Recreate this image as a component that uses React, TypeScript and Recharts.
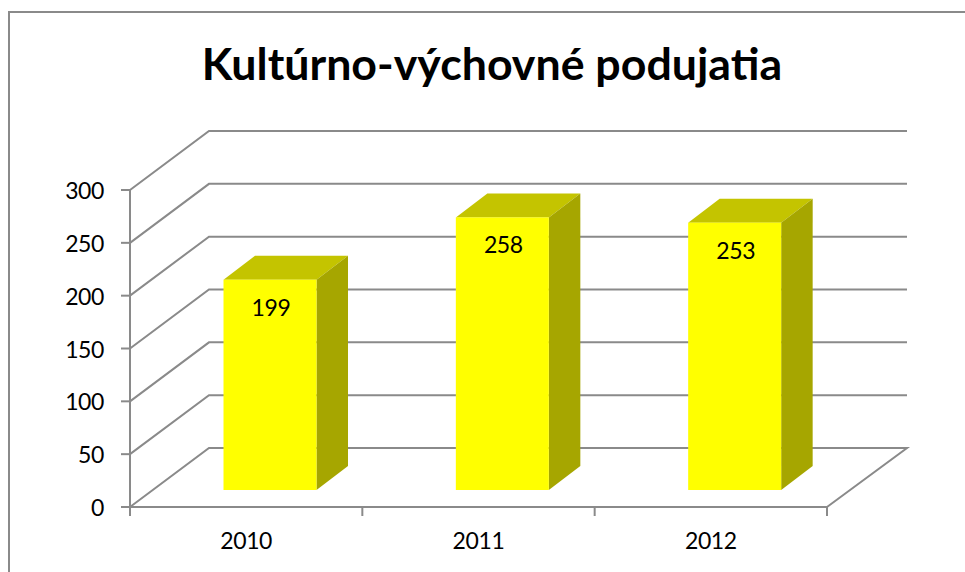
import React from "react";
import { BarChart, Bar, XAxis, YAxis, CartesianGrid, LabelList } from "recharts";

const years = ["2010", "2011", "2012"];
const counts = [199, 258, 253];
const yTicks = [0, 50, 100, 150, 200, 250, 300];
const chartTitle = "Kultúrno-výchovné podujatia";

const rows = years.map((year, i) => ({ year, count: counts[i] }));

const FONT = "Lato, 'Open Sans', sans-serif";
const LINE = "#8a8a8a";
const WALL_DX = 79;
const WALL_DY = -59;
const BAR_DX = 23.8;
const BAR_DY = -17;
const DEPTH_DX = 31.5;
const DEPTH_DY = -24;
const LABEL_STYLE = { fontFamily: FONT, fontSize: 23, fill: "#000", letterSpacing: "-0.4px" };

const GridLine = (p: any) => {
  const { x1, x2, y1 } = p;
  const bx = x1 + WALL_DX;
  const by = y1 + WALL_DY;
  const ex = x2 + WALL_DX + 1;
  const isFloor = Math.abs(y1 - 507) < 1;
  const d = `M${x1},${y1} L${bx},${by} L${ex},${by}` + (isFloor ? ` L${x2},${y1}` : "");
  return <path d={d} fill="none" stroke={LINE} strokeWidth={2} />;
};

const Box = (p: any) => {
  const x = p.x + BAR_DX;
  const y = p.y + BAR_DY;
  const w = p.width;
  const h = p.height;
  return (
    <g>
      <polygon
        points={`${x},${y} ${x + DEPTH_DX},${y + DEPTH_DY} ${x + w + DEPTH_DX},${y + DEPTH_DY} ${x + w},${y}`}
        fill="#c4c400"
      />
      <polygon
        points={`${x + w},${y} ${x + w + DEPTH_DX},${y + DEPTH_DY} ${x + w + DEPTH_DX},${y + h + DEPTH_DY} ${x + w},${y + h}`}
        fill="#a6a600"
      />
      <rect x={x} y={y} width={w} height={h} fill="#ffff00" />
    </g>
  );
};

const BoxLabel = (p: any) => (
  <text
    x={p.x + BAR_DX + p.width / 2 + 1}
    y={p.y + BAR_DY + 36}
    textAnchor="middle"
    style={LABEL_STYLE}
  >
    {p.value}
  </text>
);

const XTick = (p: any) => {
  const half = p.payload?.offset ?? 116.17;
  const isLast = p.index === years.length - 1;
  const top = p.y - 12;
  return (
    <g>
      <line x1={p.x - half} x2={p.x - half} y1={top} y2={top + 9} stroke={LINE} strokeWidth={2} />
      {isLast && <line x1={p.x + half} x2={p.x + half} y1={top} y2={top + 9} stroke={LINE} strokeWidth={2} />}
      <text x={p.x} y={549} textAnchor="middle" style={LABEL_STYLE}>
        {p.payload.value}
      </text>
    </g>
  );
};

export default function App() {
  return (
    <div style={{ position: "absolute", left: 0, top: 0, width: 965, height: 572, background: "#fff", overflow: "hidden" }}>
      <div
        style={{
          position: "absolute",
          left: 8,
          top: 11,
          width: 965,
          height: 572,
          border: `2px solid ${LINE}`,
          boxSizing: "border-box",
        }}
      />
      <div
        style={{
          position: "absolute",
          left: 0,
          top: 35,
          width: 984,
          textAlign: "center",
          fontFamily: FONT,
          fontWeight: 700,
          fontSize: 44.7,
          lineHeight: "56px",
          color: "#000",
        }}
      >
        {chartTitle}
      </div>
      <div style={{ position: "absolute", left: 0, top: 0 }}>
        <BarChart
          width={965}
          height={572}
          data={rows}
          margin={{ top: 190, right: 138, bottom: 0, left: 70 }}
          barCategoryGap="30%"
        >
          <CartesianGrid vertical={false} horizontal={GridLine as any} />
          <XAxis
            dataKey="year"
            height={65}
            axisLine={{ stroke: LINE, strokeWidth: 2 }}
            tickLine={false}
            tick={XTick as any}
            tickSize={8}
            tickMargin={4}
            interval={0}
            scale="band"
          />
          <YAxis
            width={60}
            domain={[0, 300]}
            ticks={yTicks}
            interval={0}
            axisLine={{ stroke: LINE, strokeWidth: 2 }}
            tickLine={{ stroke: LINE, strokeWidth: 2 }}
            tick={{ ...LABEL_STYLE, dy: 1 }}
            tickSize={9}
            tickMargin={17}
          />
          <Bar dataKey="count" isAnimationActive={false} shape={Box as any}>
            <LabelList dataKey="count" content={BoxLabel as any} />
          </Bar>
        </BarChart>
      </div>
    </div>
  );
}
